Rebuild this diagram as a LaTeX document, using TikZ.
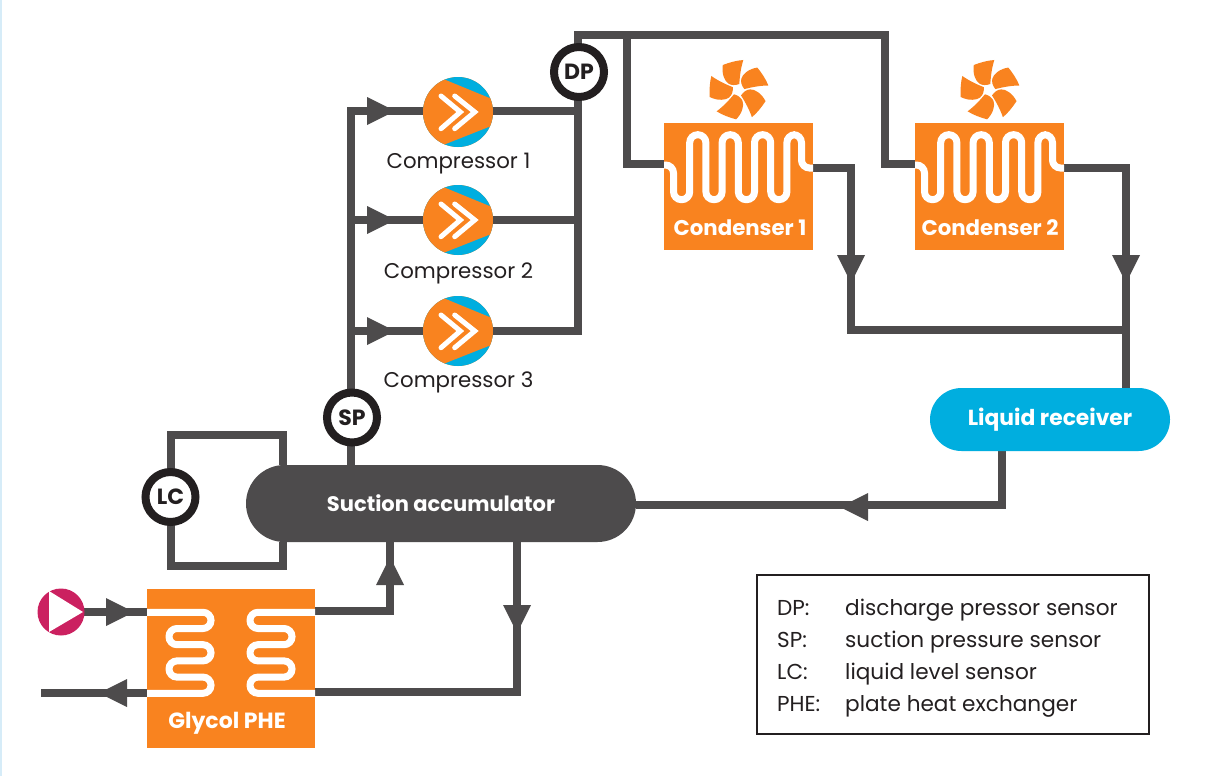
\documentclass[tikz,border=0pt]{standalone}
\usepackage{fontspec}
\setmainfont{Poppins}
\usetikzlibrary{backgrounds,calc}
\definecolor{pipe}{HTML}{4D4B4C}
\definecolor{ink}{HTML}{231F20}
\definecolor{orng}{HTML}{F9831F}
\definecolor{sky}{HTML}{00AEDF}
\definecolor{mgnt}{HTML}{CB2160}
\definecolor{strip}{HTML}{D6ECF8}
\tikzset{
  pipeline/.style={draw=pipe,line width=8pt,line join=miter},
  sensor/.style={circle,draw=ink,fill=white,line width=8pt,minimum size=50pt,inner sep=0pt,text=ink,font=\fontsize{22}{26}\selectfont\bfseries},
  comp/.style={circle,fill=orng,minimum size=70pt,inner sep=0pt},
  complabel/.style={text=ink,font=\fontsize{21.3}{26}\selectfont,inner sep=0pt},
  orangebox/.style={rectangle,fill=orng,inner sep=0pt},
  boxlabel/.style={text=white,font=\fontsize{21.3}{26}\selectfont\bfseries,inner sep=0pt},
  legendtext/.style={text=ink,font=\fontsize{21.6}{26}\selectfont,inner sep=0pt,anchor=base west},
  coil/.style={draw=white,line width=7pt},
  head/.pic={\fill[pipe] (-10,-14)--(18,0)--(-10,14)--cycle;},
  blade/.pic={\fill[orng] (1,-6) .. controls (1.5,-14) and (2.5,-22) .. (5,-30) .. controls (-2,-29.5) and (-9,-27.5) .. (-15.5,-25) .. controls (-16,-21) and (-16,-17) .. (-14.5,-13) .. controls (-13.5,-10) and (-12,-8) .. (-10,-6.5) .. controls (-7,-4.5) and (-3,-4.5) .. (1,-6)--cycle;},
  chev/.style={draw=white,line width=5pt,line cap=round,line join=miter},
}
\newcommand{\compicon}[1]{%
  \begin{scope}[shift={(#1)}]
    \clip (0,0) circle[radius=35];
    \fill[sky] (-36,-36) rectangle (36,36);
    \fill[orng] (-40,-40)--(-13,-32.3)--(30.7,-14.3)--(40,-14.3)--(40,15)--(30.7,15)--(-13,32.3)--(-40,40)--cycle;
    \draw[chev] (-17,-16)--(2.3,0)--(-17,16.7);
    \draw[chev] (-3.3,-16)--(16.7,0)--(-3.3,16.7);
  \end{scope}}
\newcommand{\condcoil}[1]{%
  \begin{scope}[shift={(#1)}]
    \draw[coil,rounded corners=8pt] (0,42)--(9.5,42)--(9.5,76.7)--(25.7,76.7)--(25.7,11.7)--(41.9,11.7)--(41.9,76.7)--(58.1,76.7)--(58.1,11.7)--(74.3,11.7)--(74.3,76.7)--(90.5,76.7)--(90.5,11.7)--(106.7,11.7)--(106.7,76.7)--(122.9,76.7)--(122.9,11.7)--(137.5,11.7)--(137.5,45)--(149,45);
  \end{scope}}
\newcommand{\fanicon}[1]{%
  \foreach \a in {0,72,144,216,288} {\pic[rotate=\a] at (#1) {blade};}}
\begin{document}
\begin{tikzpicture}[x=1pt,y=-1pt]
\useasboundingbox (0,0) rectangle (1212,776);
% nodes
\node[comp] (c1) at (458,112) {};
\node[comp] (c2) at (458,220) {};
\node[comp] (c3) at (458,331) {};
\compicon{458,112}\compicon{458,220}\compicon{458,331}
\node[complabel] (c1l) at (458.5,164) {Compressor 1};
\node[complabel] (c2l) at (458.5,273) {Compressor 2};
\node[complabel] (c3l) at (458.5,382) {Compressor 3};
\node[sensor] (dp) at (579,72) {DP};
\node[sensor] (sp) at (352,417.5) {SP};
\node[sensor] (lc) at (170.5,497) {LC};
\node[orangebox,minimum width=149pt,minimum height=127pt] (cond1) at (738.5,186.5) {};
\node[orangebox,minimum width=149pt,minimum height=127pt] (cond2) at (989.5,186.5) {};
\condcoil{664,123}\condcoil{915,123}
\node[boxlabel] (cond1l) at (740,228) {Condenser 1};
\node[boxlabel] (cond2l) at (990,228) {Condenser 2};
\fanicon{738.3,90}\fanicon{989.3,90}
\node[rectangle,rounded corners=31.5pt,fill=sky,minimum width=240pt,minimum height=63pt,inner sep=0pt,text=white,font=\fontsize{21.8}{26}\selectfont\bfseries] (lr) at (1050,419.5) {Liquid receiver};
\node[rectangle,rounded corners=38.5pt,fill=pipe,minimum width=390pt,minimum height=77pt,inner sep=0pt,text=white,font=\fontsize{21}{26}\selectfont\bfseries] (sa) at (441,503.5) {Suction accumulator};
\node[orangebox,minimum width=168pt,minimum height=159pt] (phe) at (231,668.5) {};
\draw[coil,rounded corners=8pt] (147,612.3)--(211,612.3)--(211,628.5)--(169,628.5)--(169,644.7)--(211,644.7)--(211,660.9)--(169,660.9)--(169,677.1)--(211,677.1)--(211,693.3)--(147,693.3);
\draw[coil,rounded corners=8pt] (315,612.3)--(250,612.3)--(250,628.5)--(292,628.5)--(292,644.7)--(250,644.7)--(250,660.9)--(292,660.9)--(292,677.1)--(250,677.1)--(250,693.3)--(315,693.3);
\node[boxlabel,font=\fontsize{22}{26}\selectfont\bfseries] (phel) at (227,723) {Glycol PHE};
\node[circle,fill=mgnt,minimum size=47pt,inner sep=0pt] (pump) at (61,612) {};
\fill[white] (49,591)--(83,612)--(49,632)--cycle;
\node[rectangle,draw=ink,line width=2pt,minimum width=392pt,minimum height=159pt,inner sep=0pt] (legend) at (953,654.5) {};
\node[legendtext] (k1) at (777,615) {DP:};
\node[legendtext] (k2) at (777,647) {SP:};
\node[legendtext] (k3) at (777,679) {LC:};
\node[legendtext] (k4) at (777,711) {PHE:};
\node[legendtext] (v1) at (845,615) {discharge pressor sensor};
\node[legendtext] (v2) at (845,647) {suction pressure sensor};
\node[legendtext] (v3) at (845,679) {liquid level sensor};
\node[legendtext] (v4) at (845,711) {plate heat exchanger};
% free coordinates
\coordinate (topleft) at (578,35);
\coordinate (topmid) at (627,35);
\coordinate (topright) at (885,35);
\coordinate (spt) at (351,418);
\coordinate (dpb) at (578,72);
\coordinate (j1) at (351,111);
\coordinate (j2) at (351,220);
\coordinate (j3) at (351,331);
\coordinate (r3) at (578,331);
\coordinate (r2) at (578,220);
\coordinate (r1) at (578,111);
\coordinate (m1) at (851,330);
\coordinate (m2) at (1126,330);
\coordinate (lrout) at (1002,505);
\coordinate (lcTL) at (171,435);
\coordinate (lcTR) at (283,435);
\coordinate (lcBL) at (171,566);
\coordinate (lcBR) at (283,566);
\coordinate (coolin) at (41,693);
\begin{scope}[on background layer]
\fill[white] (0,0) rectangle (1212,776);
\fill[strip] (0,0) rectangle (2,776);
\draw[pipeline] (spt)--(j1)--(r1)--(dpb);
\draw[pipeline] (j2)--(r2);
\draw[pipeline] (j3)--(r3)--(r1);
\draw[pipeline] (spt)--(spt |- sa.north);
\draw[pipeline] (dpb)--(topleft)--(topright)--(885,164)--(cond2.west |- 0,164);
\draw[pipeline] (topmid)--(627,164)--(cond1.west |- 0,164);
\draw[pipeline] (cond1.east |- 0,168)--(851,168)--(m1)--(m2);
\draw[pipeline] (cond2.east |- 0,168)--(1126,168)--(m2)--(lr.north -| m2);
\draw[pipeline] (lr.south -| lrout)--(lrout)--(sa.east |- lrout);
\draw[pipeline] (lcTR |- sa.north)--(lcTR)--(lcTL)--(lcBL)--(lcBR)--(lcBR |- sa.south);
\draw[pipeline] (pump.center)--(pump.center -| phe.west);
\draw[pipeline] (phe.west |- coolin)--(coolin);
\draw[pipeline] (phe.east |- 0,611)--(390,611)--(390,540);
\draw[pipeline] (phe.east |- 0,692)--(517,692)--(517,540);
\end{scope}
\pic at (377,111) {head};
\pic at (377,220) {head};
\pic at (377,331) {head};
\pic[rotate=-90] at (851,265) {head};
\pic[rotate=-90] at (1126,265) {head};
\pic[rotate=180] at (858,507) {head};
\pic[rotate=90] at (390,575) {head};
\pic[rotate=-90] at (517,615) {head};
\pic at (116,612) {head};
\pic[rotate=180] at (117,693) {head};
\end{tikzpicture}
\end{document}
